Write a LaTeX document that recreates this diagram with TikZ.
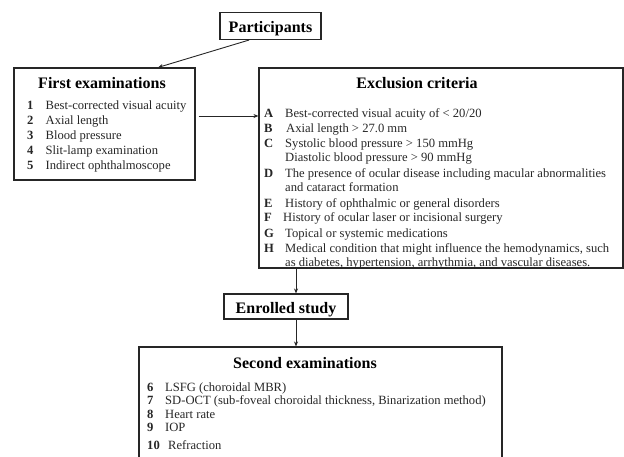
\documentclass[tikz,border=0pt]{standalone}
\usepackage{fontspec}
\setmainfont{Liberation Serif}
\usetikzlibrary{calc,arrows.meta}
\begin{document}
\begin{tikzpicture}[x=1pt,y=-1pt,
  box/.style={draw=black!85,line width=1.1pt,inner sep=0pt},
  arr/.style={draw=black!85,line width=0.9pt,-{Stealth[length=5pt,width=4pt]}},
  ttl/.style={font=\fontsize{16}{18}\selectfont\bfseries,anchor=base,inner sep=0pt},
  itm/.style={font=\fontsize{12.6}{15}\selectfont,anchor=base west,inner sep=0pt,text=black!85},
  lab/.style={font=\fontsize{12.6}{15}\selectfont\bfseries,anchor=base west,inner sep=0pt,text=black!85}]
\useasboundingbox (0,0) rectangle (624,456);
\clip (0,0) rectangle (624,456);
% boxes
\node[box,minimum width=101pt,minimum height=27pt] (part) at (270.5,26) {};
\node[box,minimum width=181pt,minimum height=112pt] (first) at (104.5,124) {};
\node[box,minimum width=364pt,minimum height=200pt] (excl) at (441,168) {};
\node[box,minimum width=124pt,minimum height=25pt] (enr) at (286,306.5) {};
\node[box,minimum width=363pt,minimum height=123pt] (second) at (320.5,408.5) {};
% titles
\node[ttl] (tpart) at (270.5,32) {Participants};
\node[ttl] (tfirst) at (102,88) {First examinations};
\node[ttl] (texcl) at (417,88) {Exclusion criteria};
\node[ttl] (tenr) at (286,313) {Enrolled study};
\node[ttl] (tsec) at (305,368) {Second examinations};
% first items
\foreach \n/\t [count=\i] in {1/Best-corrected visual acuity,2/Axial length,3/Blood pressure,4/Slit-lamp examination,5/Indirect ophthalmoscope}{
  \node[lab] (fn\i) at (27,{105+4+15*(\i-1)}) {\n};
  \node[itm] (ft\i) at (45.5,{105+4+15*(\i-1)}) {\t};
}
% exclusion items
\node[lab] (eA) at (264,117) {A};
\node[itm] (etA) at (285,117) {Best-corrected visual acuity of < 20/20};
\node[lab] (eB) at (264,132) {B};
\node[itm] (etB) at (286,132) {Axial length > 27.0 mm};
\node[lab] (eC) at (264,147) {C};
\node[itm] (etC) at (285,147) {Systolic blood pressure > 150 mmHg};
\node[itm] (etC2) at (285,161.5) {Diastolic blood pressure > 90 mmHg};
\node[lab] (eD) at (264,177) {D};
\node[itm] (etD) at (285,177) {The presence of ocular disease including macular abnormalities};
\node[itm] (etD2) at (285,191.5) {and cataract formation};
\node[lab] (eE) at (264,207) {E};
\node[itm] (etE) at (285,207) {History of ophthalmic or general disorders};
\node[lab] (eF) at (264,221.5) {F};
\node[itm] (etF) at (283,221.5) {History of ocular laser or incisional surgery};
\node[lab] (eG) at (264,237) {G};
\node[itm] (etG) at (285,237) {Topical or systemic medications};
\node[lab] (eH) at (264,252) {H};
\node[itm] (etH) at (285,252) {Medical condition that might influence the hemodynamics, such};
\node[itm] (etH2) at (285,266) {as diabetes, hypertension, arrhythmia, and vascular diseases.};
% second items
\node[lab] (s6) at (147,391) {6};
\node[itm] (st6) at (165,391) {LSFG (choroidal MBR)};
\node[lab] (s7) at (147,404.5) {7};
\node[itm] (st7) at (165,404.5) {SD-OCT (sub-foveal choroidal thickness, Binarization method)};
\node[lab] (s8) at (147,418) {8};
\node[itm] (st8) at (165,418) {Heart rate};
\node[lab] (s9) at (147,431.5) {9};
\node[itm] (st9) at (165,431.5) {IOP};
\node[lab] (s10) at (147,449) {10};
\node[itm] (st10) at (168,449) {Refraction};
% connectors
\draw[arr] ($(part.south)+(-21.5,0)$) -- ($(first.north)+(53.5,0)$);
\draw[arr] ([xshift=3pt,yshift=8pt]first.east) coordinate (a1) -- (a1 -| excl.west);
\draw[arr] ([xshift=10pt]enr.north |- excl.south) -- ([xshift=10pt]enr.north);
\draw[arr] ([xshift=10pt]enr.south) -- ([xshift=10pt]enr.south |- second.north);
\end{tikzpicture}
\end{document}
